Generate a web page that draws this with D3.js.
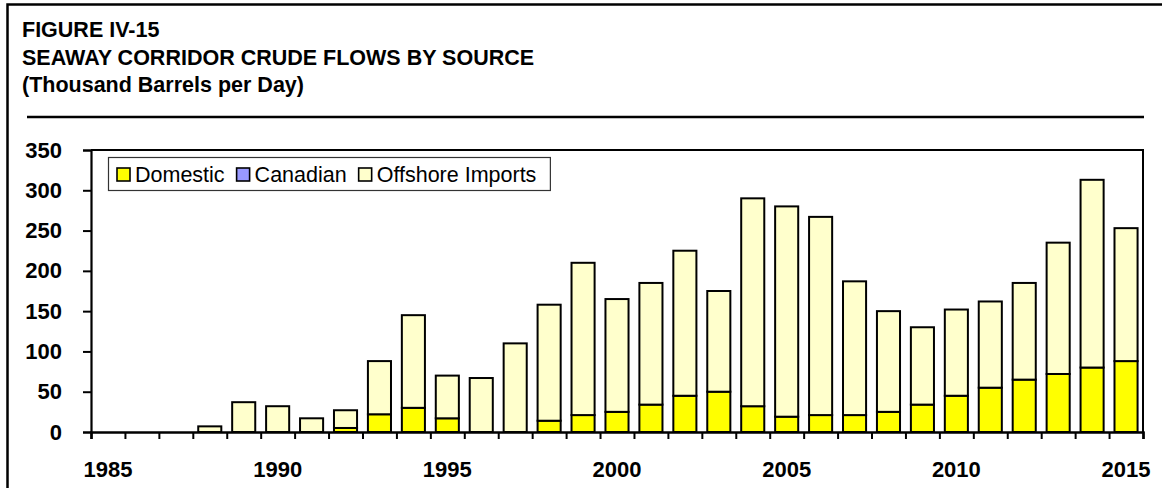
<!DOCTYPE html>
<html>
<head>
<meta charset="utf-8">
<script src="https://cdn.jsdelivr.net/npm/d3@7"></script>
<style>
  html, body { margin: 0; padding: 0; background: #fff; }
  svg { display: block; font-family: "Liberation Sans", Arial, sans-serif; }
</style>
</head>
<body>
<svg id="chart" width="1162" height="488"></svg>
<script>
const titleLines = ["FIGURE IV-15", "SEAWAY CORRIDOR CRUDE FLOWS BY SOURCE", "(Thousand Barrels per Day)"];
const years = d3.range(1985, 2016);
const seriesNames = ["Domestic", "Canadian", "Offshore Imports"];
const seriesColors = ["#FFFF00", "#9999FF", "#FFFFCC"];
const totals   = [0, 0, 0, 7, 37, 32, 17, 27, 88, 145, 70, 67, 110, 158, 210, 165, 185, 225, 175, 290, 280, 267, 187, 150, 130, 152, 162, 185, 235, 313, 253];
const domestic = [0, 0, 0, 0, 0, 0, 0, 5, 22, 30, 17, 0, 0, 14, 21, 25, 34, 45, 50, 32, 19, 21, 21, 25, 34, 45, 55, 65, 72, 80, 88];
const canadian = [0, 0, 0, 0, 0, 0, 0, 0, 0, 0, 0, 0, 0, 0, 0, 0, 0, 0, 0, 0, 0, 0, 0, 0, 0, 0, 0, 0, 0, 0, 0];
const offshore = totals.map((t, i) => t - domestic[i] - canadian[i]);
const yTicks = [0, 50, 100, 150, 200, 250, 300, 350];
const xLabelYears = [1985, 1990, 1995, 2000, 2005, 2010, 2015];

const svg = d3.select("#chart");
const m = { left: 91, right: 1143, top: 150, bottom: 432 };

// outer frame
svg.append("rect").attr("x", 7.5).attr("y", 4.5).attr("width", 1300).attr("height", 700)
  .attr("fill", "none").attr("stroke", "#000").attr("stroke-width", 2.5);

// titles
svg.append("g").selectAll("text").data(titleLines).join("text")
  .attr("x", 22).attr("y", (d, i) => 37 + i * 27.5)
  .attr("font-size", 21.5).attr("font-weight", "bold").attr("fill", "#000")
  .text(d => d);

svg.append("line").attr("x1", 27).attr("x2", 1144).attr("y1", 117).attr("y2", 117)
  .attr("stroke", "#000").attr("stroke-width", 2.5);

// scales
const x = d3.scaleBand().domain(years).range([m.left, m.right]).paddingInner(0.32).paddingOuter(0.16);
const y = d3.scaleLinear().domain([0, 350]).range([m.bottom, m.top]);
const xb = d3.scaleLinear().domain([0, years.length]).range([m.left, m.right]);

// stacked data
const table = years.map((yr, i) => ({ year: yr, "Domestic": domestic[i], "Canadian": canadian[i], "Offshore Imports": offshore[i] }));
const stack = d3.stack().keys(seriesNames)(table);

const gBars = svg.append("g");
stack.forEach((layer, li) => {
  gBars.append("g").attr("fill", seriesColors[li]).attr("stroke", "#000").attr("stroke-width", 2)
    .selectAll("rect").data(layer.filter(d => d[1] - d[0] > 0)).join("rect")
    .attr("x", d => x(d.data.year))
    .attr("width", x.bandwidth())
    .attr("y", d => y(d[1]))
    .attr("height", d => y(d[0]) - y(d[1]));
});

// plot frame top & right
svg.append("path")
  .attr("d", `M${m.left},${m.top}H${m.right}V${m.bottom}`)
  .attr("fill", "none").attr("stroke", "#000").attr("stroke-width", 2);

// y axis
const yAxis = svg.append("g").attr("transform", `translate(${m.left},0)`)
  .call(d3.axisLeft(y).tickValues(yTicks).tickSize(8).tickPadding(21));
yAxis.select(".domain").attr("stroke-width", 2.2);
yAxis.selectAll(".tick line").attr("stroke-width", 2);
yAxis.selectAll("text").attr("font-size", 22).attr("font-weight", "bold")
  .attr("font-family", "'Liberation Sans', Arial, sans-serif").attr("fill", "#000");

// x axis boundary ticks
const xTickAxis = svg.append("g").attr("transform", `translate(0,${m.bottom})`)
  .call(d3.axisBottom(xb).tickValues(d3.range(years.length + 1)).tickSize(7).tickFormat(""));
xTickAxis.select(".domain").attr("stroke-width", 2.5);
xTickAxis.selectAll(".tick line").attr("stroke-width", 2);

// x labels
const xLab = svg.append("g").attr("transform", `translate(0,${m.bottom})`)
  .call(d3.axisBottom(x).tickValues(xLabelYears).tickSize(0).tickPadding(29));
xLab.select(".domain").remove();
xLab.selectAll("text").attr("font-size", 22).attr("font-weight", "bold")
  .attr("font-family", "'Liberation Sans', Arial, sans-serif").attr("fill", "#000");

// legend
const lg = svg.append("g");
const lgBox = lg.append("rect").attr("x", 108.5).attr("y", 157.5).attr("height", 33)
  .attr("fill", "#fff").attr("stroke", "#333").attr("stroke-width", 1.2);
let cx = 117;
seriesNames.forEach((name, i) => {
  lg.append("rect").attr("x", cx).attr("y", 168).attr("width", 13).attr("height", 13)
    .attr("fill", seriesColors[i]).attr("stroke", "#000").attr("stroke-width", 1.6);
  const t = lg.append("text").attr("x", cx + 18).attr("y", 181.5)
    .attr("font-size", 21.5).attr("fill", "#000").text(name);
  cx = cx + 18 + t.node().getComputedTextLength() + 12;
});
lgBox.attr("width", cx - 12 + 14 - 108.5);
</script>
</body>
</html>
